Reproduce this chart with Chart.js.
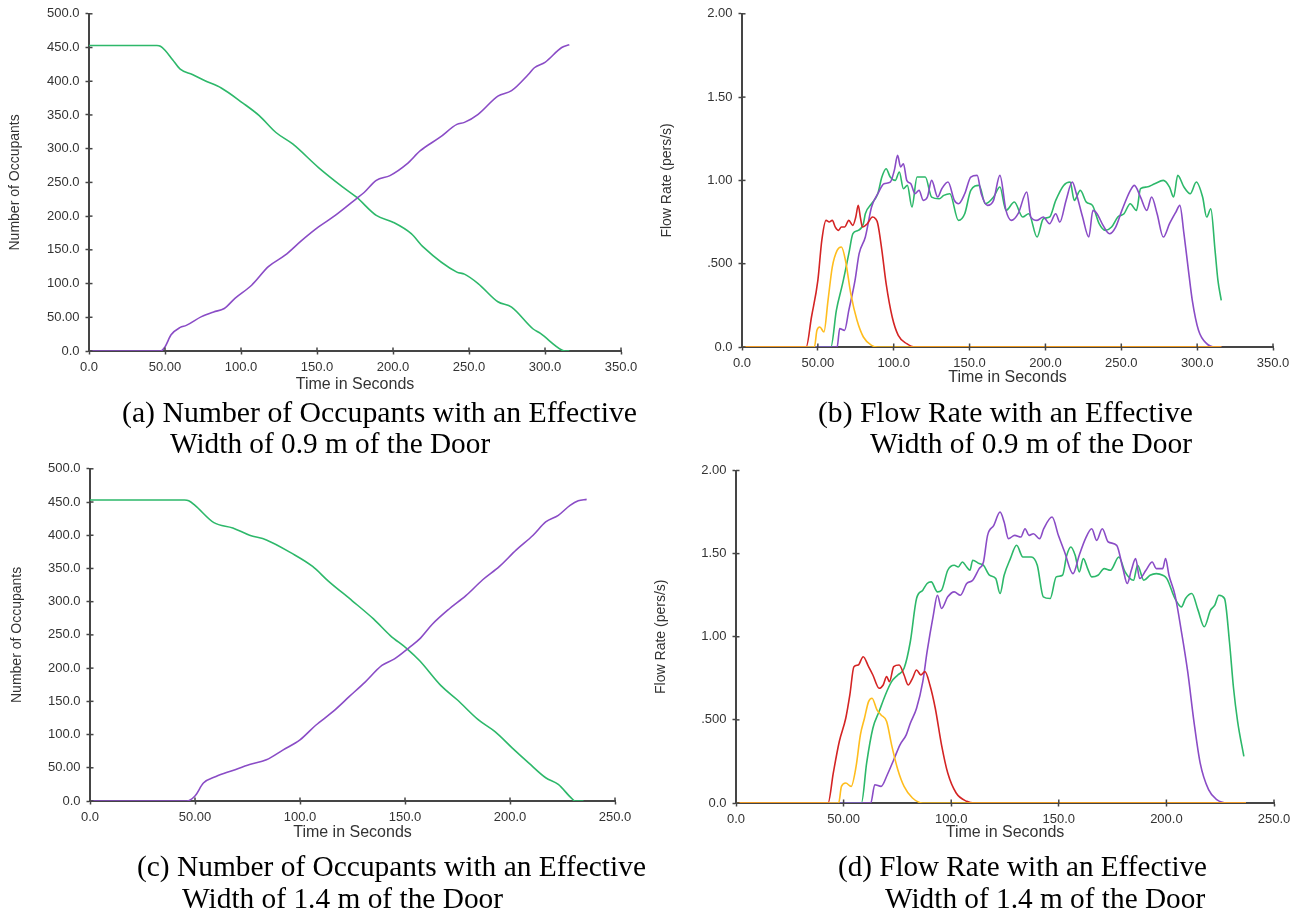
<!DOCTYPE html>
<html><head><meta charset="utf-8">
<script src="https://cdn.jsdelivr.net/npm/chart.js@4.4.1/dist/chart.umd.min.js"></script>
<style>
body{margin:0;background:#fff;width:1299px;height:912px;position:relative;overflow:hidden;}
.pane{position:absolute;}
.cap{position:absolute;font-family:"Liberation Serif","Times New Roman",serif;font-size:29px;color:#000;white-space:nowrap;line-height:30px;transform-origin:0 50%;}
</style></head><body>
<div class="pane" style="left:0;top:0"><canvas id="ca" width="650" height="400"></canvas></div>
<div class="pane" style="left:650px;top:0"><canvas id="cb" width="649" height="400"></canvas></div>
<div class="pane" style="left:0;top:455px"><canvas id="cc" width="650" height="400"></canvas></div>
<div class="pane" style="left:650px;top:455px"><canvas id="cd" width="649" height="400"></canvas></div>
<div id="caps"></div>
<script>
// ---------- tick labels ----------
const xTicks350 = ["0.0","50.00","100.0","150.0","200.0","250.0","300.0","350.0"];
const xTicks250 = ["0.0","50.00","100.0","150.0","200.0","250.0"];
const yTicksOcc = ["0.0","50.00","100.0","150.0","200.0","250.0","300.0","350.0","400.0","450.0","500.0"];
const yTicksFlow = ["0.0",".500","1.00","1.50","2.00"];

// ---------- (a) occupants, 0.9 m door ----------
const occA_remaining = [[0,453],[44.7,453],[47,452],[50,446],[55,432],[60,418],[68,410],[76,401],[87,390],[101,368],[112,349],[123,324],[134,307],[151,272],[167,243],[176,228],[189,201],[200,191],[212,174],[220,154],[242,117],[247,114],[256,100],[269,73],[278,65],[292,33],[297,26],[311,1.5],[313.6,0],[316,0]];
const occA_exited = [[0,0],[47,0],[50,6],[54,24],[60,35],[64,38],[74,51],[82,58],[89,63],[96,78],[107,97.5],[118,125],[129,142],[140,164],[151,184],[162,201],[176,226],[181,235],[189,253],[198,260],[209,277],[218,297],[231,317],[242,336],[247,339],[256,351],[269,378],[278,386],[289,410],[293,420],[300,428],[311,450],[316,454]];

// ---------- (c) occupants, 1.4 m door ----------
const occC_remaining = [[0,453],[45,453],[47,452],[50,445],[59,419],[68,411],[76,400],[84,393],[96,373],[106,353],[113.5,331],[125,301],[135,274],[143,249],[151,229],[157,211],[167,174],[175,152],[185,122],[193,104],[201,80],[209,57],[217,35],[223,25],[229,5],[231,0],[235,0]];
const occC_exited = [[0,0],[46,0],[50,7.5],[54,27],[60,37],[68,46],[76,55],[84,62],[92,77],[100,92],[107.5,114],[115.5,134],[123.4,157],[131,179],[139,204],[145,214],[152,231],[157,244],[163,266],[171,289],[179,309],[187,333],[195,353],[203,378],[211,400],[217,420],[223,430],[228.6,445],[232.5,452],[236.5,454]];

// ---------- (b) flow rate, 0.9 m door ----------
const flowB_red = [[0,0],[42.3,0],[45.8,0.18],[50,0.40],[52.6,0.64],[55.4,0.76],[57.5,0.75],[59.5,0.76],[61.5,0.72],[63.6,0.70],[65.5,0.72],[67.6,0.72],[70.4,0.76],[73,0.73],[75,0.78],[76.6,0.85],[78,0.78],[79.4,0.72],[82.6,0.74],[86,0.78],[88,0.77],[89.5,0.74],[92.2,0.58],[95,0.38],[99,0.18],[103,0.07],[108.6,0.02],[114,0],[316,0]];
const flowB_yellow = [[0,0],[47.7,0],[49.4,0.10],[51.3,0.12],[54,0.09],[56.7,0.28],[59.5,0.48],[62.7,0.58],[65.5,0.60],[68.2,0.52],[71.7,0.32],[75.8,0.16],[80,0.06],[85.4,0.01],[89.5,0],[316,0]];
const flowB_green = [[0,0],[58.6,0],[62.2,0.22],[66.3,0.38],[70.4,0.56],[73.1,0.68],[76.6,0.70],[80,0.74],[81.3,0.80],[85.4,0.86],[89.5,0.92],[92.2,1.02],[95,1.07],[97.7,1.02],[101,1.00],[103.7,1.05],[106.4,0.95],[109,0.97],[112,0.84],[115.4,1.02],[120.8,1.02],[125,0.90],[130,0.89],[133,0.91],[137,0.92],[142.7,0.76],[146.8,0.80],[150.8,0.94],[156.3,0.97],[160.4,0.86],[165.8,0.90],[170,0.96],[174,0.82],[179.5,0.87],[185,0.78],[189,0.80],[194.5,0.66],[198.6,0.77],[202.7,0.78],[206.8,0.88],[212,0.97],[216.3,0.99],[219,0.88],[223,0.94],[227,0.87],[231,0.85],[235.4,0.74],[239.5,0.70],[243.6,0.72],[247.7,0.78],[251.8,0.80],[255.9,0.86],[260,0.82],[262.7,0.95],[266.8,0.96],[272,0.98],[277.7,1.00],[281.8,0.96],[284.5,0.90],[287.2,1.03],[291.3,0.96],[295.4,0.92],[299.5,0.99],[303.6,0.90],[306.3,0.78],[309,0.83],[311.8,0.58],[313.7,0.40],[315.9,0.28]];
const flowB_purple = [[0,0],[62.7,0],[64.4,0.11],[67.6,0.10],[70.4,0.22],[74.5,0.40],[77.2,0.56],[81.3,0.66],[85.4,0.84],[89.5,0.92],[93.6,0.98],[97.7,0.99],[100.4,1.06],[102.6,1.15],[104.5,1.08],[106.4,1.10],[108.6,1.00],[111.3,0.98],[114,0.92],[116.7,0.94],[119.5,0.88],[122.2,0.90],[125,1.00],[129,0.90],[131.7,0.95],[135.8,0.99],[140,0.88],[142.7,0.86],[146.8,0.92],[150.8,1.02],[155,1.03],[157.7,0.92],[161.8,0.85],[165.8,0.88],[170,1.03],[174,0.82],[177.6,0.76],[182,0.80],[187.7,0.93],[190.4,0.78],[194.5,0.76],[198.6,0.78],[202.7,0.74],[206.8,0.80],[209.5,0.75],[213.6,0.88],[217.7,0.99],[220.4,0.92],[224.5,0.78],[228.6,0.66],[231.3,0.82],[234,0.80],[238,0.73],[242.2,0.68],[246.3,0.72],[250.4,0.82],[256,0.94],[258.6,0.97],[262.7,0.90],[266.8,0.82],[270,0.90],[273.6,0.80],[277.7,0.66],[281.8,0.74],[286,0.81],[288.6,0.85],[291.3,0.68],[294,0.48],[296.8,0.28],[300.9,0.10],[306.3,0.02],[311.8,0],[316,0]];

// ---------- (d) flow rate, 1.4 m door ----------
const flowD_red = [[0,0],[42.8,0],[45.2,0.18],[48,0.37],[51,0.51],[52.9,0.65],[54.8,0.82],[56.8,0.83],[59.1,0.88],[61.6,0.82],[63.6,0.77],[66.5,0.69],[68.4,0.71],[70,0.76],[71.3,0.73],[73.3,0.82],[75.8,0.83],[78.1,0.77],[80,0.71],[82,0.75],[83.9,0.80],[85.9,0.77],[87.8,0.79],[90.1,0.71],[92.6,0.57],[95.5,0.35],[98.4,0.18],[102.3,0.06],[107.2,0.01],[111,0],[237,0]];
const flowD_yellow = [[0,0],[47.7,0],[49,0.10],[51,0.12],[53.5,0.10],[55.8,0.22],[57.8,0.41],[59.7,0.51],[61.6,0.61],[63.2,0.63],[65.5,0.56],[67.4,0.53],[70,0.49],[72.3,0.35],[75.2,0.20],[78.1,0.10],[82,0.03],[86.8,0],[237,0]];
const flowD_green = [[0,0],[58.3,0],[60.7,0.24],[63.6,0.45],[66.5,0.55],[69.4,0.65],[72.3,0.73],[75.2,0.77],[78.1,0.81],[81,0.97],[83.9,1.23],[86.8,1.28],[88.8,1.32],[90.7,1.33],[93.6,1.27],[95.5,1.28],[98.4,1.40],[101.4,1.43],[103.3,1.42],[105.2,1.45],[107.2,1.42],[108.7,1.40],[110,1.46],[113,1.44],[115,1.43],[117.8,1.37],[120.7,1.35],[122.7,1.26],[124.6,1.37],[127.5,1.47],[130.4,1.55],[133.3,1.48],[137.2,1.48],[140,1.43],[142.8,1.24],[146,1.23],[148.8,1.36],[151.7,1.37],[153.7,1.49],[155.6,1.54],[157.6,1.49],[159.5,1.39],[161.4,1.47],[163.4,1.41],[165.3,1.36],[168.2,1.37],[171.1,1.41],[174,1.40],[177.9,1.48],[180.8,1.39],[184.7,1.34],[186.6,1.43],[189.5,1.34],[192.4,1.37],[195.3,1.38],[198.3,1.37],[200.2,1.35],[204,1.23],[207,1.18],[208.9,1.23],[211.8,1.26],[214.7,1.16],[217.6,1.06],[220.5,1.16],[222.5,1.19],[224.4,1.25],[227,1.23],[229.3,0.97],[231.2,0.69],[233.1,0.49],[236,0.28]];
const flowD_purple = [[0,0],[62.6,0],[64.5,0.11],[67.4,0.10],[70.3,0.17],[73.3,0.26],[76.2,0.35],[79.1,0.41],[81,0.48],[83.9,0.57],[86.8,0.73],[88.8,0.91],[91.7,1.13],[93.6,1.25],[95.5,1.17],[98.4,1.24],[101.4,1.27],[104.3,1.25],[107.2,1.32],[110,1.34],[113,1.41],[115,1.45],[116.9,1.61],[119.8,1.67],[122.7,1.75],[124.6,1.69],[126.6,1.59],[129.5,1.61],[132.4,1.60],[134.3,1.65],[136.2,1.61],[138.2,1.62],[141.1,1.59],[143,1.65],[146.9,1.72],[149.8,1.61],[152.7,1.51],[156.6,1.38],[159.5,1.49],[162.4,1.59],[165.3,1.65],[167.6,1.58],[170.2,1.65],[173,1.57],[176.9,1.55],[179.8,1.41],[181.8,1.32],[183.7,1.40],[185.7,1.47],[187.6,1.35],[190.5,1.40],[193.4,1.45],[195.3,1.41],[198.3,1.41],[199.6,1.47],[201.2,1.37],[204,1.25],[207,1.03],[209.9,0.79],[212.8,0.49],[215.7,0.24],[219.6,0.08],[223.4,0.02],[228.3,0],[237,0]];

// ---------- captions ----------
const captions = [
  ["(a) Number of Occupants with an Effective",122,637,412],
  ["Width of 0.9 m of the Door",170,490,443],
  ["(b) Flow Rate with an Effective",818,1193,412],
  ["Width of 0.9 m of the Door",870,1192,443],
  ["(c) Number of Occupants with an Effective",137,646,866],
  ["Width of 1.4 m of the Door",182,503,898],
  ["(d) Flow Rate with an Effective",838,1207,866],
  ["Width of 1.4 m of the Door",885,1205,898]
];

const GREEN='#2db86a', PURPLE='#8a4cc6', RED='#d42424', YELLOW='#ffbd1e', AX='#454545', TXT='#333';
const FONT='"Liberation Sans", Arial, sans-serif';

const crossTicks = {
  id:'crossTicks',
  afterDraw(chart){
    const ctx=chart.ctx, ca=chart.chartArea, xs=chart.scales.x, ys=chart.scales.y;
    ctx.save(); ctx.strokeStyle=AX; ctx.lineWidth=1.5;
    xs.ticks.forEach(t=>{const p=xs.getPixelForValue(t.value); ctx.beginPath(); ctx.moveTo(p,ca.bottom); ctx.lineTo(p,ca.bottom-3.5); ctx.stroke();});
    ys.ticks.forEach(t=>{const p=ys.getPixelForValue(t.value); ctx.beginPath(); ctx.moveTo(ca.left,p); ctx.lineTo(ca.left+3.5,p); ctx.stroke();});
    ctx.restore();
  }
};

function ds(data,color){
  return {data:data.map(p=>({x:p[0],y:p[1]})),borderColor:color,borderWidth:1.6,pointRadius:0,fill:false,cubicInterpolationMode:'monotone'};
}

function make(id, datasets, o){
  new Chart(document.getElementById(id),{
    type:'line',
    data:{datasets},
    options:{
      responsive:false, animation:false, events:[],
      layout:{padding:{top:o.top,right:o.right,left:0,bottom:0}},
      plugins:{legend:{display:false},tooltip:{enabled:false}},
      scales:{
        x:{type:'linear',min:0,max:o.xmax,
          ticks:{stepSize:50,autoSkip:false,maxRotation:0,color:TXT,font:{family:FONT,size:13},padding:5.5,
            callback:v=>o.xl[Math.round(v/50)]},
          grid:{drawOnChartArea:false,drawTicks:true,tickLength:3.5,tickColor:AX,tickWidth:1.5},
          border:{display:true,color:AX,width:2},
          title:{display:true,text:'Time in Seconds',color:TXT,font:{family:FONT,size:16},padding:{top:0,bottom:o.xtp}},
          afterFit:s=>{s.height=o.xh;}
        },
        y:{type:'linear',min:0,max:o.ymax,
          ticks:{stepSize:o.ystep,autoSkip:false,color:TXT,font:{family:FONT,size:13},padding:6,
            callback:v=>o.yl[Math.round(v/o.ystep)]},
          grid:{drawOnChartArea:false,drawTicks:true,tickLength:3.5,tickColor:AX,tickWidth:1.5},
          border:{display:true,color:AX,width:2},
          title:{display:true,text:o.ytitle,color:TXT,font:{family:FONT,size:14},padding:{top:o.ytp,bottom:0}},
          afterFit:s=>{s.width=o.yw;}
        }
      }
    },
    plugins:[crossTicks]
  });
}

make('ca',[ds(occA_exited,PURPLE),ds(occA_remaining,GREEN)],
  {top:13,right:29,xmax:350,xl:xTicks350,xh:49,xtp:5.4,ymax:500,ystep:50,yl:yTicksOcc,ytitle:'Number of Occupants',ytp:6.6,yw:89});
make('cb',[ds(flowB_yellow,YELLOW),ds(flowB_red,RED),ds(flowB_purple,PURPLE),ds(flowB_green,GREEN)],
  {top:13,right:26,xmax:350,xl:xTicks350,xh:53,xtp:12.4,ymax:2,ystep:0.5,yl:yTicksFlow,ytitle:'Flow Rate (pers/s)',ytp:8.6,yw:92});
make('cc',[ds(occC_exited,PURPLE),ds(occC_remaining,GREEN)],
  {top:12,right:35,xmax:250,xl:xTicks250,xh:54,xtp:12.4,ymax:500,ystep:50,yl:yTicksOcc,ytitle:'Number of Occupants',ytp:8.6,yw:90});
make('cd',[ds(flowD_yellow,YELLOW),ds(flowD_red,RED),ds(flowD_purple,PURPLE),ds(flowD_green,GREEN)],
  {top:15.5,right:25,xmax:250,xl:xTicks250,xh:52,xtp:12.4,ymax:2,ystep:0.5,yl:yTicksFlow,ytitle:'Flow Rate (pers/s)',ytp:2.6,yw:86});

const capBox=document.getElementById('caps');
captions.forEach(c=>{
  const d=document.createElement('div'); d.className='cap'; d.textContent=c[0];
  capBox.appendChild(d);
  const w=d.getBoundingClientRect().width;
  d.style.left=c[1]+'px'; d.style.top=(c[3]-15)+'px';
  d.style.transform='scaleX('+((c[2]-c[1])/w).toFixed(3)+')';
});
</script>
</body></html>
